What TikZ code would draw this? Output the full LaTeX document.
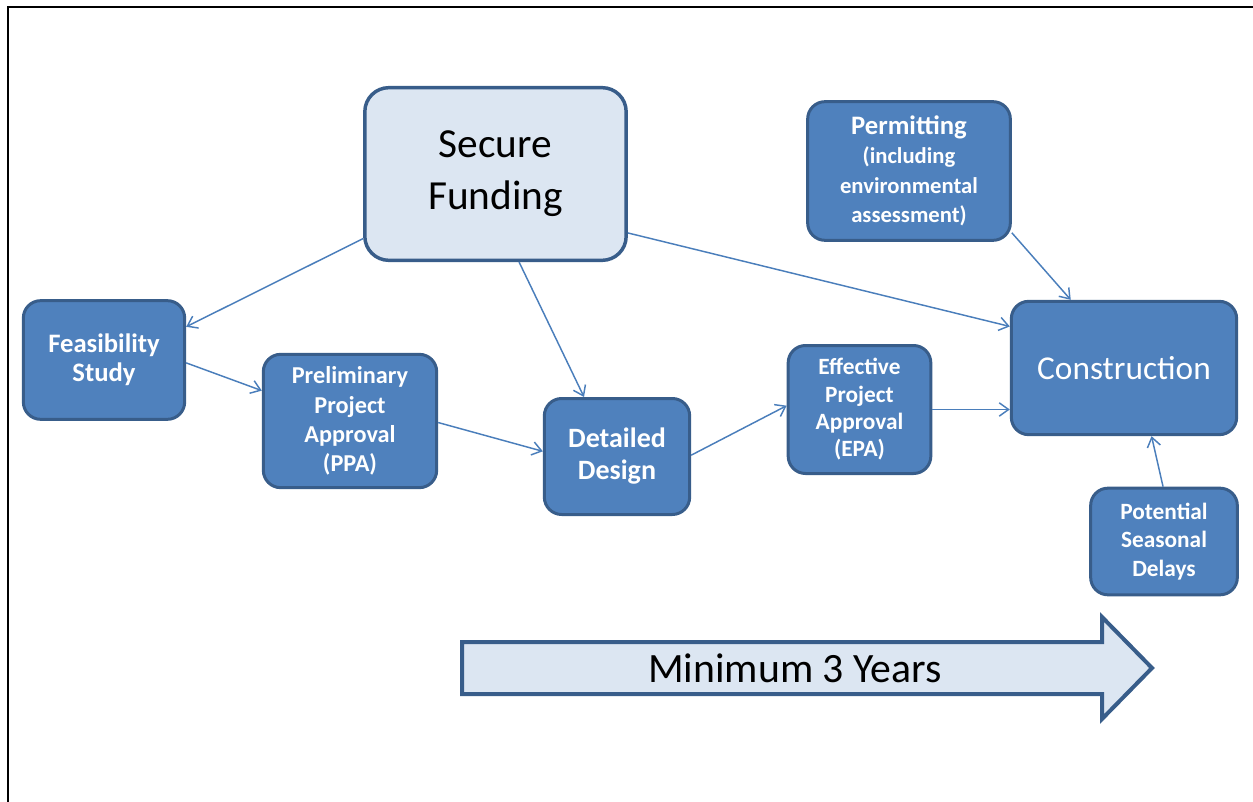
\documentclass[tikz,border=0pt]{standalone}
\usepackage{fontspec}
\setmainfont{Carlito}
\usetikzlibrary{arrows.meta}

\definecolor{stagefill}{HTML}{4F81BD}
\definecolor{stageline}{HTML}{385D8A}
\definecolor{goalfill}{HTML}{DCE6F2}
\definecolor{flowline}{HTML}{4A7EBB}

\tikzset{
  stage/.style={draw=stageline,fill=stagefill,line width=2.25pt,rounded corners=13pt,
    text=white,align=center,inner sep=0pt,font=\bfseries\fontsize{18.2}{22}\selectfont},
  goal/.style={stage,fill=goalfill,text=black,line width=2.6pt,rounded corners=18pt,
    font=\fontsize{31}{39}\selectfont},
  flow/.style={draw=flowline,line width=1.1pt,-{Straight Barb[length=7pt,width=10pt]}},
}

\begin{document}
\begin{tikzpicture}[x=0.75pt,y=-0.75pt]
    \useasboundingbox (0,0) rectangle (1253,802);
    \draw[line width=1.5pt] (8,802) -- (8,7) -- (1253,7);

    \node[goal]  (sf)  at (495.5,174) [minimum width=196pt,minimum height=129.5pt] {Secure\\Funding};
    \node[stage] (pm)  at (909,171)   [minimum width=152pt,minimum height=104pt]
        {{\fontsize{20}{22}\selectfont Permitting}\\{\fontsize{17}{21}\selectfont (including}\\{\fontsize{17}{21}\selectfont environmental}\\{\fontsize{17}{21}\selectfont assessment)}};
    \node[stage] (fs)  at (104,360)   [minimum width=121pt,minimum height=89pt,font=\bfseries\fontsize{20}{22}\selectfont] {Feasibility\\Study};
    \node[stage] (ppa) at (350,421)   [minimum width=130pt,minimum height=100pt] {Preliminary\\Project\\Approval\\(PPA)};
    \node[stage] (dd)  at (617,456.5) [minimum width=109pt,minimum height=87pt,font=\bfseries\fontsize{21}{24}\selectfont] {Detailed\\Design};
    \node[stage] (epa) at (859.5,409.5) [minimum width=107pt,minimum height=96pt,font=\bfseries\fontsize{17.5}{20.5}\selectfont] {Effective\\Project\\Approval\\(EPA)};
    \node[stage] (con) at (1124,368)  [minimum width=169pt,minimum height=100pt,font=\fontsize{25}{30}\selectfont] {Construction};
    \node[stage] (pd)  at (1164,541.5) [minimum width=110pt,minimum height=80pt,font=\bfseries\fontsize{17.5}{21.4}\selectfont] {Potential\\Seasonal\\Delays};

    % flow between stages
    \draw[flow] (sf.206.8) -- (fs.22);
    \draw[flow] (fs.-2) -- (ppa.161.8);
    \draw[flow] (ppa.-1) -- (dd.176);
    \draw[flow] (sf.-75) -- (dd.119.6);
    \draw[flow] (dd.1) -- (epa.177.5);
    \draw[flow] (epa.east) -- (epa.east -| con.west);
    \draw[flow] (sf.-24.7) -- (con.160.7);
    \draw[flow] (pm.-31) -- (con.128.7);
    \draw[flow] (pd.91) -- (con.-68.7);

    % time line
    \draw[draw=stageline,fill=goalfill,line width=3pt,line join=miter]
        (462,642) -- (1102,642) -- (1102,617) -- (1152,668) -- (1102,719) -- (1102,694) -- (462,694) -- cycle;
    \node (yrs) at (795,668) [font=\fontsize{31.3}{36}\selectfont] {Minimum 3 Years};
\end{tikzpicture}
\end{document}
